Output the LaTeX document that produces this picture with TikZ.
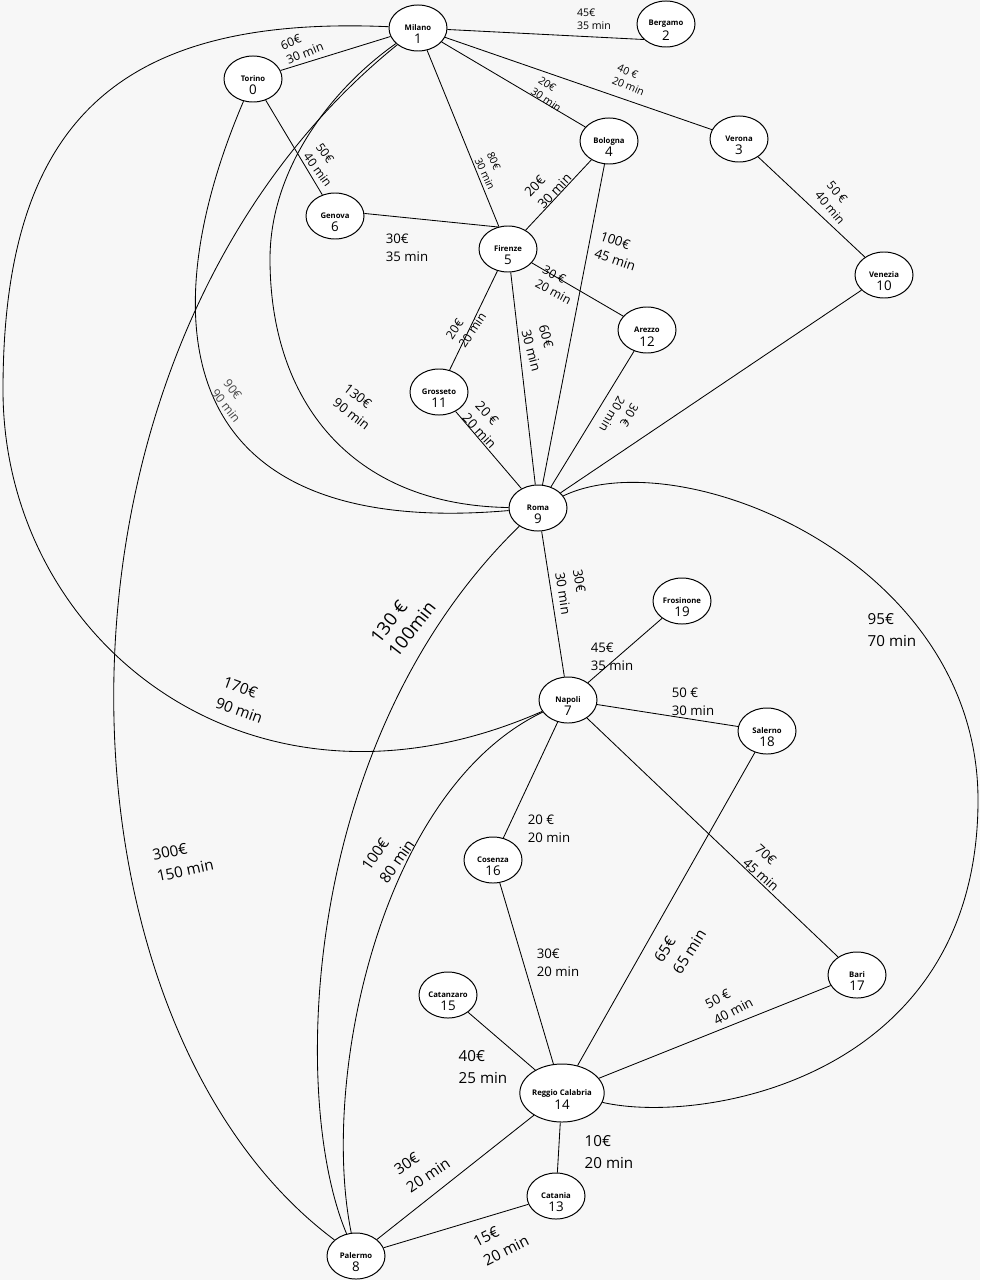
\documentclass[tikz,border=0pt]{standalone}
\usepackage{fontspec}
\setmainfont{Open Sans}
\usetikzlibrary{shapes.geometric,backgrounds}
\definecolor{paper}{RGB}{247,247,247}
\definecolor{faint}{RGB}{70,70,70}

\begin{document}
\begin{tikzpicture}[x=0.025cm,y=-0.025cm,
  city/.style={ellipse,draw,fill=white,line width=0.7pt,minimum width=1.45cm,minimum height=1.15cm,inner sep=0pt,
    font=\fontsize{5.5}{6}\selectfont\bfseries,
    label={[font=\fontsize{9.5}{10}\selectfont,yshift=-0.28cm]center:#1}},
  road/.style={line width=0.6pt},
  ctiny/.style={align=left,inner sep=0pt,font=\fontsize{7.5}{9.6}\selectfont},
  csmall/.style={align=left,inner sep=0pt,font=\fontsize{8.6}{11}\selectfont},
  cmed/.style={align=left,inner sep=0pt,font=\fontsize{9.4}{12.8}\selectfont},
  clarge/.style={align=left,inner sep=0pt,font=\fontsize{10.8}{15.5}\selectfont},
  chuge/.style={align=left,inner sep=0pt,font=\fontsize{13}{16}\selectfont}]
\useasboundingbox (0,0) rectangle (980,1280);

% cities
\node[city=0] (n0) at (253,79) {Torino};
\node[city=1] (n1) at (418,28) {Milano};
\node[city=2] (n2) at (666,24) {Bergamo};
\node[city=3] (n3) at (739,139) {Verona};
\node[city=4] (n4) at (609,141) {Bologna};
\node[city=5] (n5) at (508,249) {Firenze};
\node[city=6] (n6) at (335,216) {Genova};
\node[city=7] (n7) at (568,700) {Napoli};
\node[city=8] (n8) at (356,1256) {Palermo};
\node[city=9] (n9) at (538,508) {Roma};
\node[city=10] (n10) at (884,275) {Venezia};
\node[city=11] (n11) at (439,392) {Grosseto};
\node[city=12] (n12) at (647,330) {Arezzo};
\node[city=13] (n13) at (556,1196) {Catania};
\node[city=14,minimum width=2cm,minimum height=1.45cm] (n14) at (562,1093) {Reggio Calabria};
\node[city=15] (n15) at (448,995) {Catanzaro};
\node[city=16] (n16) at (493,860) {Cosenza};
\node[city=17] (n17) at (857,975) {Bari};
\node[city=18] (n18) at (767,731) {Salerno};
\node[city=19] (n19) at (682,601) {Frosinone};

% roads
\begin{scope}[on background layer]
\fill[paper] (0,0) rectangle (980,1280);
\draw[road] (n1) -- (n0);
\draw[road] (n1) -- (n2.215);
\draw[road] (n1) -- (n3);
\draw[road] (n1) -- (n4);
\draw[road] (n1) -- (n5);
\draw[road] (n0) -- (n6);
\draw[road] (n6.5) -- (n5.115);
\draw[road] (n4) -- (n5);
\draw[road] (n4) -- (n9);
\draw[road] (n3) -- (n10);
\draw[road] (n10) -- (n9);
\draw[road] (n5) -- (n12);
\draw[road] (n5) -- (n11);
\draw[road] (n5) -- (n9);
\draw[road] (n11) -- (n9);
\draw[road] (n12) -- (n9);
\draw[road] (n9) -- (n7);
\draw[road] (n7) -- (n19);
\draw[road] (n7) -- (n18);
\draw[road] (n7) -- (n16);
\draw[road] (n7) -- (n17);
\draw[road] (n18) -- (n14);
\draw[road] (n16) -- (n14);
\draw[road] (n15) -- (n14);
\draw[road] (n17) -- (n14);
\draw[road] (n14) -- (n13);
\draw[road] (n14) -- (n8);
\draw[road] (n13) -- (n8);
% long arcs
\draw[road] (n1) .. controls (120,15) and (3,120) .. (3,390) .. controls (3,640) and (250,840) .. (n7);
\draw[road] (n1) .. controls (20,350) and (40,1020) .. (n8);
\draw[road] (n0) .. controls (150,320) and (170,540) .. (n9);
\draw[road] (n1) .. controls (330,90) and (270,170) .. (270,259) .. controls (270,400) and (350,505) .. (n9);
\draw[road] (n9) .. controls (300,740) and (290,1100) .. (n8);
\draw[road] (n7) .. controls (380,790) and (320,1080) .. (n8);
\draw[road] (n9) .. controls (680,440) and (978,560) .. (978,800) .. controls (978,1080) and (700,1125) .. (n14);
\end{scope}

% costs
\node[ctiny] (c1-2) at (594,19) {45€\\35 min};
\node[csmall,rotate=22] (c1-0) at (302,46) {60€\\30 min};
\node[ctiny,rotate=-23] (c1-3) at (631,80) {40 €\\20 min};
\node[ctiny,rotate=-34] (c1-4) at (550,94) {20€\\30 min};
\node[ctiny,rotate=-65] (c1-5) at (491,171) {80€\\30 min};
\node[csmall,rotate=-54] (c0-6) at (324,165) {50€\\40 min};
\node[cmed] (c6-5) at (407,248) {30€\\35 min};
\node[cmed,rotate=47] (c4-5) at (548,185) {20€\\30 min};
\node[cmed,rotate=-19] (c4-9) at (618,251) {100€\\45 min};
\node[csmall,rotate=-50] (c3-10) at (836,203) {50 €\\40 min};
\node[csmall,rotate=-28] (c5-12) at (557,285) {30 €\\20 min};
\node[csmall,rotate=56] (c5-11) at (466,326) {20€\\20 min};
\node[cmed,rotate=-75] (c5-9) at (540,348) {60€\\30 min};
\node[cmed,rotate=-47] (c11-9) at (486,425) {20 €\\20 min};
\node[csmall,rotate=-120] (c12-9) at (619,418) {30 €\\20 min};
\node[cmed,rotate=-81] (c9-7) at (572,592) {30€\\30 min};
\node[cmed] (c7-19) at (612,657) {45€\\35 min};
\node[cmed] (c7-18) at (693,702) {50 €\\30 min};
\node[cmed] (c7-16) at (549,829) {20 €\\20 min};
\node[cmed,rotate=-42] (c7-17) at (767,868) {70€\\45 min};
\node[clarge,rotate=58] (c18-14) at (680,946) {65€\\65 min};
\node[cmed] (c16-14) at (558,963) {30€\\20 min};
\node[clarge] (c15-14) at (483,1067) {40€\\25 min};
\node[cmed,rotate=28] (c17-14) at (729,1003) {50 €\\40 min};
\node[clarge] (c14-13) at (609,1152) {10€\\20 min};
\node[clarge,rotate=34] (c14-8) at (422,1166) {30€\\20 min};
\node[clarge,rotate=27] (c13-8) at (501,1241) {15€\\20 min};
\node[clarge,rotate=-20] (c1-7) at (243,700) {170€\\90 min};
\node[csmall,rotate=-52,text=faint] (c0-9) at (232,401) {90€\\90 min};
\node[cmed,rotate=-38] (c1-9) at (357,407) {130€\\90 min};
\node[chuge,rotate=52] (c9-8) at (403,622) {130 €\\100min};
\node[clarge,rotate=55] (c7-8) at (388,855) {100€\\80 min};
\node[clarge,rotate=12] (c1-8) at (183,860) {300€\\150 min};
\node[clarge] (c9-14) at (892,630) {95€\\70 min};
\end{tikzpicture}
\end{document}
